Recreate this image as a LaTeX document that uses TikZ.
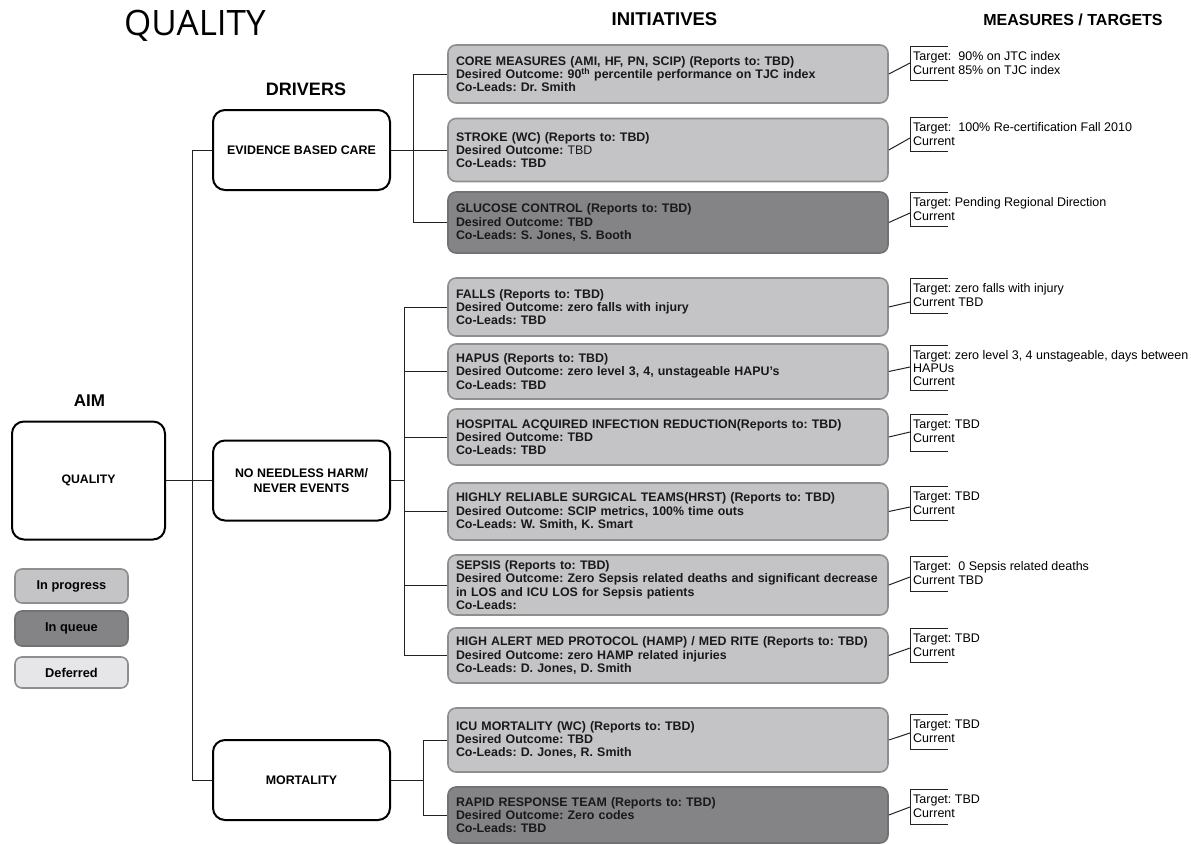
\documentclass[tikz,border=0pt]{standalone}
\usepackage{fontspec}
\setmainfont{Liberation Sans}
\newfontfamily\titlefont{Open Sans}
\definecolor{progF}{HTML}{C4C4C6}
\definecolor{progB}{HTML}{8E8E90}
\definecolor{queueF}{HTML}{848487}
\definecolor{queueB}{HTML}{727274}
\definecolor{defF}{HTML}{E6E6E8}
\definecolor{lineC}{HTML}{222222}
\newcommand\measblock[5]{%
  \node[meastext] (m#1) at (913,#2+4.2) {\strut #5};
  \draw[bracketline] (948,#2) -- (910,#2) -- (910,#3) -- (948,#3);
  \coordinate (h#1) at (910,#4);
  \draw[conn] (#1.east) -- (h#1);
}
\begin{document}
\frenchspacing
\begin{tikzpicture}[x=1pt,y=-1pt,
  conn/.style={draw=lineC, line width=1pt},
  bracketline/.style={draw=lineC, line width=1pt},
  drv/.style={draw=black, line width=2pt, rounded corners=12pt, fill=white,
    minimum width=177pt, minimum height=80pt, align=center,
    font=\fontsize{12.4}{15}\selectfont\bfseries},
  init/.style={rounded corners=8pt, line width=1.6pt, minimum width=440pt,
    text width=424pt, inner xsep=8pt, inner ysep=2pt, align=left,
    font=\fontsize{12.4}{13.3}\selectfont\bfseries, text=black!90},
  prog/.style={init, draw=progB, fill=progF},
  queue/.style={init, draw=queueB, fill=queueF},
  legend/.style={rounded corners=7pt, line width=1.6pt, draw=progB,
    minimum width=113pt, align=center, font=\fontsize{12.8}{15}\selectfont\bfseries},
  meastext/.style={anchor=north west, inner sep=0pt, align=left,
    font=\fontsize{12.5}{14}\selectfont},
  head/.style={font=\fontsize{17}{20}\selectfont\bfseries, anchor=base},
]
\useasboundingbox (0,0) rectangle (1191,844);

% titles
\node[anchor=base west, inner sep=0pt, font=\titlefont\fontsize{35}{38}\selectfont] (ttl) at (124,35) {QUALITY};
\node[head, font=\fontsize{18.5}{20}\selectfont\bfseries] (hinit) at (664.5,25) {INITIATIVES};
\node[head, font=\fontsize{16}{20}\selectfont\bfseries] (hmeas) at (1073,25) {MEASURES / TARGETS};
\node[head, font=\fontsize{18}{20}\selectfont\bfseries] (hdrv) at (306,95) {DRIVERS};
\node[head, font=\fontsize{17}{20}\selectfont\bfseries] (haim) at (89.5,406) {AIM};

% aim
\node[draw=black, line width=2pt, rounded corners=12pt, minimum width=153pt, minimum height=118pt,
  font=\fontsize{12.3}{15}\selectfont\bfseries] (aim) at (88.5,480.5) {QUALITY};

% legend
\node[legend, fill=progF, minimum height=34pt] (lp) at (71.5,586) {In progress};
\node[legend, fill=queueF, draw=queueB, minimum height=35pt] (lq) at (71.5,628.5) {In queue};
\node[legend, fill=defF, minimum height=31pt] (ld) at (71.5,672.5) {Deferred};

% drivers
\node[drv] (ebc) at (301.5,150) {EVIDENCE BASED CARE};
\node[drv] (harm) at (301.5,480.5) {NO NEEDLESS HARM/\\NEVER EVENTS};
\node[drv] (mort) at (301.5,780) {MORTALITY};

% initiatives
\node[prog, minimum height=58pt] (core) at (668,74) {CORE MEASURES (AMI, HF, PN, SCIP) (Reports to: TBD)\\Desired Outcome: 90\textsuperscript{th} percentile performance on TJC index\\Co-Leads: Dr. Smith};
\node[prog, minimum height=63pt] (stroke) at (668,150) {STROKE (WC) (Reports to: TBD)\\Desired Outcome: \mdseries TBD\\\bfseries Co-Leads: TBD};
\node[queue, minimum height=61pt] (gluc) at (668,222.5) {GLUCOSE CONTROL (Reports to: TBD)\\Desired Outcome: TBD\\Co-Leads: S. Jones, S. Booth};

\node[prog, minimum height=58pt] (falls) at (668,307) {FALLS (Reports to: TBD)\\Desired Outcome: zero falls with injury\\Co-Leads: TBD};
\node[prog, minimum height=55pt] (hapus) at (668,371.5) {HAPUS (Reports to: TBD)\\Desired Outcome: zero level 3, 4, unstageable HAPU's\\Co-Leads: TBD};
\node[prog, minimum height=56pt] (hai) at (668,437) {HOSPITAL ACQUIRED INFECTION REDUCTION(Reports to: TBD)\\Desired Outcome: TBD\\Co-Leads: TBD};
\node[prog, minimum height=57pt] (hrst) at (668,511.5) {HIGHLY RELIABLE SURGICAL TEAMS(HRST) (Reports to: TBD)\\Desired Outcome: SCIP metrics, 100\% time outs\\Co-Leads: W. Smith, K. Smart};
\node[prog, minimum height=60pt] (sepsis) at (668,585) {SEPSIS (Reports to: TBD)\\Desired Outcome: Zero Sepsis related deaths and significant decrease\\in LOS and ICU LOS for Sepsis patients\\Co-Leads:};
\node[prog, minimum height=55pt] (alert) at (668,655.5) {HIGH ALERT MED PROTOCOL (HAMP) / MED RITE (Reports to: TBD)\\Desired Outcome: zero HAMP related injuries\\Co-Leads: D. Jones, D. Smith};

\node[prog, minimum height=64pt] (icu) at (668,740) {ICU MORTALITY (WC) (Reports to: TBD)\\Desired Outcome: TBD\\Co-Leads: D. Jones, R. Smith};
\node[queue, minimum height=56pt] (rapid) at (668,815) {RAPID RESPONSE TEAM (Reports to: TBD)\\Desired Outcome: Zero codes\\Co-Leads: TBD};

% connectors
\coordinate (b0) at (192,0);
\coordinate (b1) at (413,0);
\coordinate (b2) at (404,0);
\coordinate (b3) at (423,0);
\draw[conn] (ebc.west) -| (b0 |- mort.west) -- (mort.west);
\draw[conn, line width=1.6pt] (aim.east) -- (b0 |- aim.east);
\draw[conn] (b0 |- aim.east) -- (harm.west);

\draw[conn] (core.west) -| (b1 |- gluc.west) -- (gluc.west);
\draw[conn] (ebc.east) -- (stroke.west);

\draw[conn] (falls.west) -| (b2 |- alert.west) -- (alert.west);
\foreach \n in {hapus,hai,hrst,sepsis} \draw[conn] (\n.west) -- (b2 |- \n.west);
\draw[conn] (harm.east) -- (b2 |- harm.east);

\draw[conn] (icu.west) -| (b3 |- rapid.west) -- (rapid.west);
\draw[conn] (mort.east) -- (b3 |- mort.east);

% measures
\measblock{core}{46}{80}{63}{Target:\ \ 90\% on JTC index\\Current 85\% on TJC index}
\measblock{stroke}{117}{151}{138}{Target:\ \ 100\% Re-certification Fall 2010\\Current}
\measblock{gluc}{192}{226}{213}{Target: Pending Regional Direction\\Current}
\measblock{falls}{278}{313}{302}{Target: zero falls with injury\\Current TBD}
\measblock{hapus}{345}{390}{367}{Target: zero level 3, 4 unstageable, days between\\[-1pt]HAPUs\\[-1pt]Current}
\measblock{hai}{414}{451}{432}{Target: TBD\\Current}
\measblock{hrst}{486}{520}{507}{Target: TBD\\Current}
\measblock{sepsis}{556}{591}{577}{Target:\ \ 0 Sepsis related deaths\\Current TBD}
\measblock{alert}{628}{662}{648}{Target: TBD\\Current}
\measblock{icu}{714}{749}{733}{Target: TBD\\Current}
\measblock{rapid}{789}{824}{807}{Target: TBD\\Current}
\end{tikzpicture}
\end{document}
